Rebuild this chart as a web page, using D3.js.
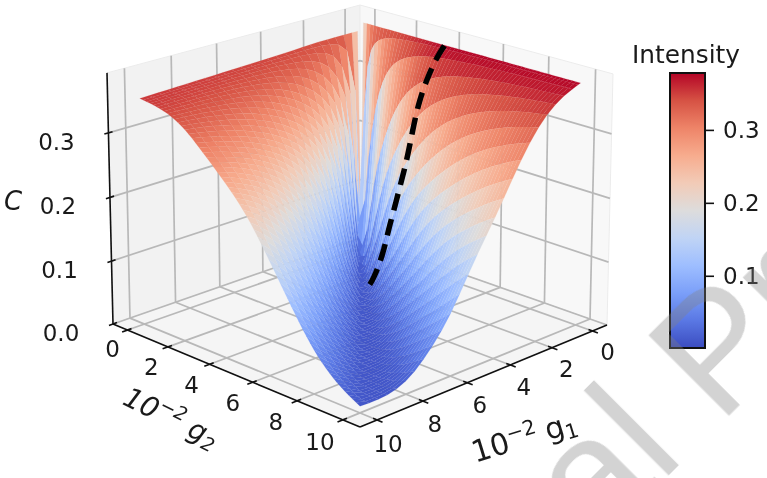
<!DOCTYPE html>
<html>
<head>
<meta charset="utf-8">
<script src="https://cdn.jsdelivr.net/npm/d3@7"></script>
<style>
html, body { margin: 0; padding: 0; background: #fff; }
svg { display: block; font-family: "DejaVu Sans", sans-serif; }
</style>
</head>
<body>
<div id="chart"></div>
<script>
// tick labels of the three axes and the colour bar
const gTicks = [0, 2, 4, 6, 8, 10];
const cTicks = [0, 0.1, 0.2, 0.3];
const barTicks = [0.1, 0.2, 0.3];

// mesh of the surface, g1 is coarse and g2 fine like in the picture
const g1Grid = [0, 0.12, 0.4, 0.8, 1.2, 1.6, 2, 2.4, 2.8, 3.2, 3.6, 4, 4.4, 4.8, 5.2, 5.6, 6, 6.4, 6.8, 7.2, 7.6, 8, 8.4, 8.8, 9.2, 9.6, 10];
const g2Grid = d3.range(0, 10.001, 1 / 6);

// surface height, at gap = |g1-g2| / max(g1,g2) = 0, 0.1 ... 1
const leftFlank = [0.01, 0.029, 0.063, 0.118, 0.177, 0.233, 0.27, 0.303, 0.335, 0.349, 0.353];
const rightFlank = [0.01, 0.008, 0.016, 0.048, 0.092, 0.16, 0.215, 0.28, 0.335, 0.365, 0.378];

// left rim climbs a little towards the back corner, colours there are paler
const rimReach = [0, 2, 4, 10];
const leftRimGain = [1.03, 1.03, 1.02, 1];
const leftTint = [0.93, 0.94, 0.96, 1];
const rightTint = [0.86, 0.92, 1, 1];

// dashed curve at g2 = 4
const dashG2 = 4;
const dashG1 = [0, 0.39, 0.83, 1.25, 1.54, 1.78, 2.02, 2.34, 2.67, 2.91, 3.38, 3.62];
const dashC = [0.377, 0.361, 0.333, 0.297, 0.253, 0.214, 0.185, 0.146, 0.109, 0.074, 0.038, 0.03];

const coolwarm = ["#3b4cc0", "#5a78e4", "#7b9ff9", "#9ebeff", "#c0d4f5", "#dddcdc", "#f2cbb7", "#f7ac8e", "#ee8468", "#d65244", "#b40426"];

const width = 767, height = 478;

const svg = d3.select("#chart").append("svg")
    .attr("width", width)
    .attr("height", height);
const plot = svg.append("g").style("filter", "blur(0.45px)");

// cube corners on screen
const back = [360, 238], left = [113, 324], right = [607, 325], front = [360, 427];
const backTop = [360, 5], leftTop = [107, 75];

// perspective camera from the corners (square to quad, then the height axis)
const sx = back[0] - left[0] + front[0] - right[0], sy = back[1] - left[1] + front[1] - right[1];
const dx1 = left[0] - front[0], dx2 = right[0] - front[0], dy1 = left[1] - front[1], dy2 = right[1] - front[1];
const det = dx1 * dy2 - dx2 * dy1;
const wa = (sx * dy2 - dx2 * sy) / det, wb = (dx1 * sy - sx * dy1) / det;
const wc = (leftTop[0] - left[0]) * (1 + wa) / (backTop[0] - leftTop[0]);
const ax = left[0] * (1 + wa) - back[0], ay = left[1] * (1 + wa) - back[1];
const bx = right[0] * (1 + wb) - back[0], by = right[1] * (1 + wb) - back[1];
const cx = backTop[0] * (1 + wc) - back[0], cy = backTop[1] * (1 + wc) - back[1];

const gScale = d3.scaleLinear().domain([-0.73, 10.73]).range([0, 1]);
const cScale = d3.scaleLinear().domain([0, 0.392]).range([0, 1]);

function cube(a, b, c) {
    const w = 1 + wa * a + wb * b + wc * c;
    return [(back[0] + ax * a + bx * b + cx * c) / w, (back[1] + ay * a + by * b + cy * c) / w];
}
function project(g1, g2, C) {
    return cube(gScale(g1), gScale(g2), cScale(C));
}

const color = d3.scaleSequential(d3.piecewise(d3.interpolateRgb, coolwarm)).domain([0.001, 0.378]);

const leftSpline = d3.interpolateBasis(leftFlank);
const rightSpline = d3.interpolateBasis(rightFlank);
const leftGain = d3.scaleLinear().domain(rimReach).range(leftRimGain);
const leftTintScale = d3.scaleLinear().domain(rimReach).range(leftTint);
const rightTintScale = d3.scaleLinear().domain(rimReach).range(rightTint);

function heightAt(g1, g2) {
    const reach = Math.max(g1, g2);
    if (reach == 0) return leftFlank[0];
    const gap = Math.abs(g1 - g2) / reach;
    return g1 > g2 ? leftSpline(gap) * leftGain(reach) : rightSpline(gap);
}
function toneAt(g1, g2) {
    const reach = Math.max(g1, g2);
    return g1 > g2 ? leftTintScale(reach) : rightTintScale(reach);
}

// panes
const panes = [
    { fill: "#f2f2f2", pts: [[0, 0, 0], [1, 0, 0], [1, 0, 1], [0, 0, 1]] },
    { fill: "#f8f8f8", pts: [[0, 0, 0], [0, 1, 0], [0, 1, 1], [0, 0, 1]] },
    { fill: "#f5f5f5", pts: [[0, 0, 0], [1, 0, 0], [1, 1, 0], [0, 1, 0]] }
];
plot.append("g").selectAll("polygon")
    .data(panes)
    .join("polygon")
    .attr("points", d => d.pts.map(p => cube(p[0], p[1], p[2]).join(",")).join(" "))
    .attr("fill", d => d.fill)
    .attr("stroke", "#ececec")
    .attr("stroke-width", 1);

// grid lines
const gridLines = [];
gTicks.forEach(t => {
    const u = gScale(t);
    gridLines.push([cube(u, 0, 0), cube(u, 0, 1)]);
    gridLines.push([cube(u, 0, 0), cube(u, 1, 0)]);
    gridLines.push([cube(0, u, 0), cube(0, u, 1)]);
    gridLines.push([cube(0, u, 0), cube(1, u, 0)]);
});
cTicks.forEach(t => {
    const v = cScale(t);
    gridLines.push([cube(0, 0, v), cube(1, 0, v)]);
    gridLines.push([cube(0, 0, v), cube(0, 1, v)]);
});
plot.append("g").selectAll("line")
    .data(gridLines)
    .join("line")
    .attr("x1", d => d[0][0]).attr("y1", d => d[0][1])
    .attr("x2", d => d[1][0]).attr("y2", d => d[1][1])
    .attr("stroke", "#b8b8b8")
    .attr("stroke-width", 1.7);

// surface cells, back to front
const cells = [];
g1Grid.slice(0, -1).forEach((g1, i) => {
    g2Grid.slice(0, -1).forEach((g2, j) => {
        const g1b = g1Grid[i + 1], g2b = g2Grid[j + 1];
        const corners = [[g1, g2], [g1b, g2], [g1b, g2b], [g1, g2b]].map(p => [p[0], p[1], heightAt(p[0], p[1])]);
        const value = d3.mean(corners, p => p[2]) * toneAt((g1 + g1b) / 2, (g2 + g2b) / 2);
        cells.push({ depth: g1 + g2, corners: corners, value: value });
    });
});
cells.sort((p, q) => p.depth - q.depth);
plot.append("g").selectAll("polygon")
    .data(cells)
    .join("polygon")
    .attr("points", d => d.corners.map(p => project(p[0], p[1], p[2]).join(",")).join(" "))
    .attr("fill", d => color(d.value))
    .attr("stroke", d => color(d.value))
    .attr("stroke-width", 0.15);

// dashed curve
const dashLine = d3.line().curve(d3.curveBasis)
    .x(d => project(d[0], dashG2, d[1])[0])
    .y(d => project(d[0], dashG2, d[1])[1]);
plot.append("path")
    .attr("d", dashLine(dashG1.map((g, i) => [g, dashC[i]])))
    .attr("fill", "none")
    .attr("stroke", "#000")
    .attr("stroke-width", 5.5)
    .attr("stroke-dasharray", "17 9");

// black axis lines
const axisLines = [
    [cube(1, 0, 0), cube(1, 1, 0)],
    [cube(1, 1, 0), cube(0, 1, 0)],
    [cube(1, 0, 0), cube(1, 0, 1)]
];
gTicks.forEach(t => {
    const u = gScale(t);
    axisLines.push([cube(0.985, u, 0), cube(1.02, u, 0)]);
    axisLines.push([cube(u, 0.985, 0), cube(u, 1.02, 0)]);
});
cTicks.forEach(t => {
    const v = cScale(t);
    axisLines.push([cube(0.985, 0, v), cube(1.015, 0, v)]);
});
plot.append("g").selectAll("line")
    .data(axisLines)
    .join("line")
    .attr("x1", d => d[0][0]).attr("y1", d => d[0][1])
    .attr("x2", d => d[1][0]).attr("y2", d => d[1][1])
    .attr("stroke", "#111")
    .attr("stroke-width", 1.6);

// tick labels
const tickLabels = [];
gTicks.forEach(t => {
    const u = gScale(t);
    const p = cube(1, u, 0), q = cube(u, 1, 0);
    tickLabels.push({ x: p[0] - 15 - t * 0.8, y: p[1] + 27 + t * 0.3, text: t });
    tickLabels.push({ x: q[0] + 15 - t * 0.4, y: q[1] + 29 + t * 0.3, text: t });
});
cTicks.forEach(t => {
    const p = cube(1, 0, cScale(t));
    tickLabels.push({ x: p[0] - 52, y: p[1] + 17, text: d3.format(".1f")(t) });
});
plot.append("g").selectAll("text")
    .data(tickLabels)
    .join("text")
    .attr("x", d => d.x)
    .attr("y", d => d.y)
    .attr("text-anchor", "middle")
    .attr("font-size", 23)
    .attr("fill", "#1a1a1a")
    .text(d => d.text);

// axis titles
plot.append("text")
    .attr("x", 13).attr("y", 210)
    .attr("text-anchor", "middle")
    .attr("font-size", 26)
    .attr("font-style", "italic")
    .attr("fill", "#1a1a1a")
    .text("C");

function gLabel(x, y, angle, style, sub, size) {
    const t = plot.append("text")
        .attr("transform", `translate(${x},${y}) rotate(${angle})`)
        .attr("text-anchor", "middle")
        .attr("font-size", size)
        .attr("font-style", style)
        .attr("fill", "#1a1a1a");
    t.append("tspan").text("10");
    t.append("tspan").attr("font-size", size * 0.68).attr("dy", -11).text("\u22122");
    t.append("tspan").attr("dx", 8).attr("dy", 11).text("g");
    t.append("tspan").attr("font-size", size * 0.68).attr("dy", 5).text(sub);
}
gLabel(167, 426, 26, "italic", "2", 28);
gLabel(527, 447, -17, "normal", "1", 30);

// colour bar
const barScale = d3.scaleLinear().domain([0.001, 0.378]).range([348, 73]);
const defs = svg.append("defs");
const grad = defs.append("linearGradient").attr("id", "bar-grad")
    .attr("x1", 0).attr("y1", 1).attr("x2", 0).attr("y2", 0);
grad.selectAll("stop")
    .data(coolwarm)
    .join("stop")
    .attr("offset", (d, i) => i / (coolwarm.length - 1))
    .attr("stop-color", d => d);
plot.append("rect")
    .attr("x", 670).attr("y", 73)
    .attr("width", 35).attr("height", 275)
    .attr("fill", "url(#bar-grad)")
    .attr("stroke", "#111")
    .attr("stroke-width", 2);
const barAxis = plot.append("g")
    .attr("transform", "translate(705,0)")
    .call(d3.axisRight(barScale).tickValues(barTicks).tickSize(9).tickPadding(9).tickFormat(d3.format(".1f")));
barAxis.select(".domain").remove();
barAxis.selectAll("line").attr("stroke", "#111").attr("stroke-width", 1.6);
barAxis.selectAll("text")
    .attr("font-size", 23)
    .attr("font-family", '"DejaVu Sans", sans-serif')
    .attr("fill", "#1a1a1a");
plot.append("text")
    .attr("x", 686).attr("y", 63)
    .attr("text-anchor", "middle")
    .attr("font-size", 24.8)
    .attr("fill", "#1a1a1a")
    .text("Intensity");

// watermark on top of everything
svg.append("text")
    .attr("transform", "translate(304,840) rotate(-45)")
    .attr("font-family", '"Liberation Sans", sans-serif')
    .attr("font-size", 165)
    .attr("fill", "#808080")
    .attr("fill-opacity", 0.35)
    .text("Journal Pre-proof");
</script>
</body>
</html>
